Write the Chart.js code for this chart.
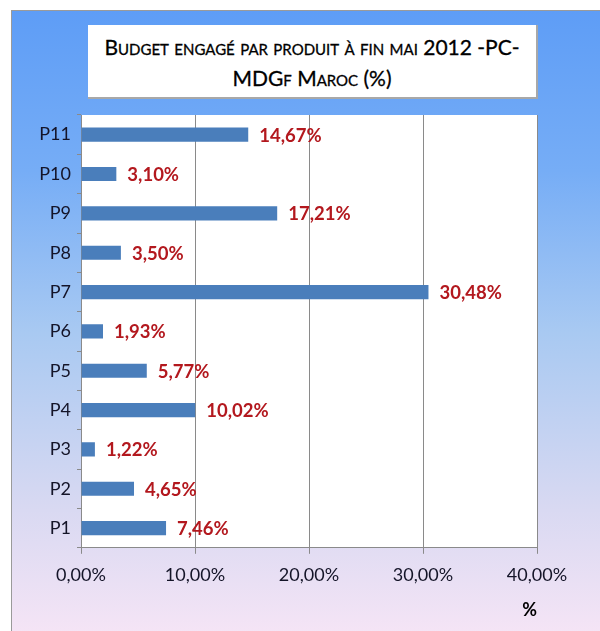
<!DOCTYPE html>
<html><head><meta charset="utf-8">
<script src="https://cdn.jsdelivr.net/npm/chart.js@4.4.0/dist/chart.umd.min.js"></script>
<style>
html,body{margin:0;padding:0;background:#fff;width:600px;height:631px;overflow:hidden;}
#frame{position:absolute;left:11px;top:10px;width:600px;height:640px;border-left:1px solid #9a9a9a;border-top:1px solid #9a9a9a;
background:linear-gradient(to bottom,#5e9df6 0%,#76adf6 25%,#a8c9f2 50%,#d9d9f2 78%,#f9e6f6 100%);}
#title{position:absolute;left:88px;top:25px;width:450px;height:74px;background:#fff;border-right:2px solid #a8a8a8;border-bottom:2px solid #a8a8a8;
font-family:Lato,'Open Sans',sans-serif;font-variant:small-caps;font-size:21px;line-height:31px;text-align:center;color:#000;padding-top:6px;box-sizing:border-box;-webkit-text-stroke:0.3px #000;}
#wrap{position:absolute;left:0;top:0;width:600px;height:631px;}
</style></head>
<body>
<div id="frame"></div>
<div id="title">Budget engagé par produit à fin mai 2012 -PC-<br>MDGf Maroc (%)</div>
<div id="wrap"><canvas id="c" width="600" height="631"></canvas></div>
<script>
const categories = ['P1','P2','P3','P4','P5','P6','P7','P8','P9','P10','P11'];
const values = [7.46, 4.65, 1.22, 10.02, 5.77, 1.93, 30.48, 3.50, 17.21, 3.10, 14.67];
const tickValues = [0, 10, 20, 30, 40];
const axisTitle = '%';

function fmt(v){ return v.toFixed(2).replace('.', ',') + '%'; }

const plotBg = {
  id:'plotBg',
  beforeDraw(chart){
    const {ctx, chartArea:a} = chart;
    ctx.save(); ctx.fillStyle='#ffffff';
    ctx.fillRect(a.left, a.top, a.right-a.left, a.bottom-a.top);
    ctx.restore();
  }
};
const barLabels = {
  id:'barLabels',
  afterDatasetsDraw(chart){
    const {ctx} = chart;
    const meta = chart.getDatasetMeta(0);
    ctx.save();
    ctx.font = 'bold 18.5px Lato, "Open Sans", sans-serif';
    ctx.fillStyle = '#b3181e';
    ctx.textAlign = 'left'; ctx.textBaseline = 'middle';
    meta.data.forEach((bar,i)=>{
      ctx.fillText(fmt(values[i]), bar.x + 11, bar.y + 1);
    });
    ctx.restore();
  }
};

new Chart(document.getElementById('c'), {
  type:'bar',
  data:{ labels: categories, datasets:[{ data: values, backgroundColor:'#4a7ebb', borderWidth:0, barPercentage:0.36, categoryPercentage:1 }]},
  options:{
    responsive:false, animation:false, indexAxis:'y',
    layout:{ padding:{ left:0, right:63, top:115, bottom:10 } },
    plugins:{ legend:{display:false}, tooltip:{enabled:false} },
    scales:{
      x:{
        min:0, max:40,
        afterBuildTicks(s){ s.ticks = tickValues.map(v=>({value:v})); },
        grid:{ color:'#8a8a8a', lineWidth:1, tickLength:6, drawTicks:true },
        border:{ display:true, color:'#8a8a8a' },
        ticks:{ padding:11, color:'#141428', font:{ family:'Lato, "Open Sans", sans-serif', size:18 }, callback:(v)=>fmt(v), maxRotation:0 },
        title:{ display:true, text:axisTitle, align:'end', color:'#000', font:{ family:'Lato, "Open Sans", sans-serif', size:18, weight:'bold' }, padding:{top:2,bottom:0} }
      },
      y:{
        reverse:true,
        afterFit(s){ s.width = 81; },
        grid:{ drawOnChartArea:false, drawTicks:true, tickLength:4, color:'#8a8a8a', offset:true },
        border:{ display:true, color:'#8a8a8a' },
        ticks:{ padding:6, color:'#141428', font:{ family:'Lato, "Open Sans", sans-serif', size:18 } }
      }
    }
  },
  plugins:[plotBg, barLabels]
});
</script>
</body></html>
